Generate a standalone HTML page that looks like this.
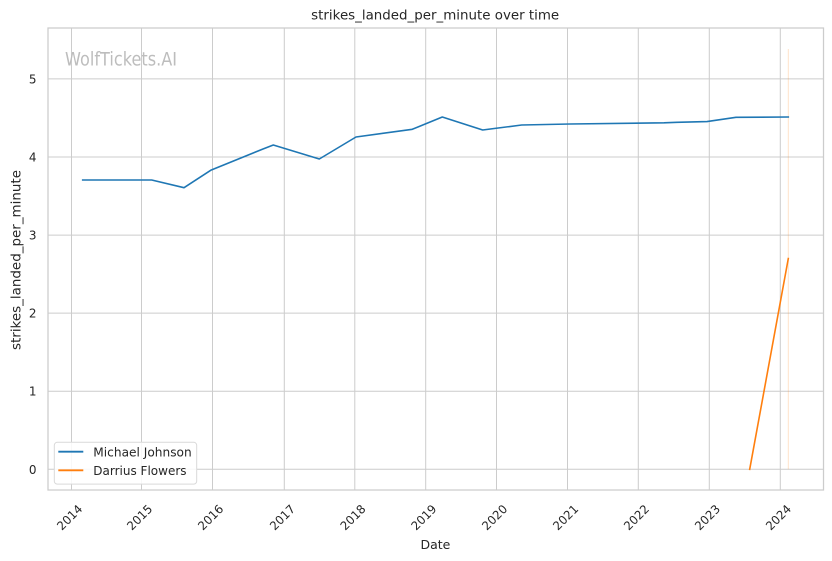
<!DOCTYPE html>
<html><head><meta charset="utf-8"><style>
html,body{margin:0;padding:0;background:#fff;}
svg{display:block;font-family:"DejaVu Sans","Liberation Sans",sans-serif;}
</style></head><body>
<svg width="832" height="561" viewBox="0 0 832 561" xmlns="http://www.w3.org/2000/svg">
<rect x="0" y="0" width="832" height="561" fill="#fff"/>
<!-- grid -->
<g stroke="#cccccc" stroke-width="1">
<line x1="71.5" y1="28" x2="71.5" y2="490"/>
<line x1="141.5" y1="28" x2="141.5" y2="490"/>
<line x1="212.5" y1="28" x2="212.5" y2="490"/>
<line x1="284.3" y1="28" x2="284.3" y2="490"/>
<line x1="354.8" y1="28" x2="354.8" y2="490"/>
<line x1="425.7" y1="28" x2="425.7" y2="490"/>
<line x1="496.5" y1="28" x2="496.5" y2="490"/>
<line x1="567.5" y1="28" x2="567.5" y2="490"/>
<line x1="638.3" y1="28" x2="638.3" y2="490"/>
<line x1="709.3" y1="28" x2="709.3" y2="490"/>
<line x1="780.3" y1="28" x2="780.3" y2="490"/>
<line x1="48" y1="469.3" x2="823.5" y2="469.3"/>
<line x1="48" y1="391.2" x2="823.5" y2="391.2"/>
<line x1="48" y1="313.1" x2="823.5" y2="313.1"/>
<line x1="48" y1="235.1" x2="823.5" y2="235.1"/>
<line x1="48" y1="157.0" x2="823.5" y2="157.0"/>
<line x1="48" y1="78.9" x2="823.5" y2="78.9"/>
</g>
<rect x="48" y="28" width="775.5" height="462" fill="none" stroke="#cccccc" stroke-width="1.25"/>
<!-- watermark -->
<text x="65" y="65.5" font-size="18.5" fill="#bdbdbd" textLength="112" lengthAdjust="spacingAndGlyphs">WolfTickets.AI</text>
<!-- series -->
<line x1="788.3" y1="49" x2="788.3" y2="469.3" stroke="#ff7f0e" stroke-opacity="0.22" stroke-width="1"/>
<polyline fill="none" stroke="#1f77b4" stroke-width="1.6" stroke-linejoin="round" stroke-linecap="square" points="82.7,180 151.7,180 184,187.7 210.7,170.3 263,149 273.3,145 319.3,159 356,137 412.3,129.3 442.3,117 482.7,130 521.7,125 570,124 664,122.8 677,122.3 707,121.6 736,117.3 788.3,117"/>
<polyline fill="none" stroke="#ff7f0e" stroke-width="1.6" stroke-linecap="square" points="749.7,469.3 788.3,258.5"/>
<!-- y ticks -->
<g font-size="12" fill="#262626" text-anchor="end">
<text x="36.5" y="473.8">0</text>
<text x="36.5" y="395.7">1</text>
<text x="36.5" y="317.6">2</text>
<text x="36.5" y="239.6">3</text>
<text x="36.5" y="161.5">4</text>
<text x="36.5" y="83.4">5</text>
</g>
<!-- x ticks -->
<g font-size="11.8" fill="#262626" text-anchor="middle" dominant-baseline="central">
<text x="69.7" y="517.5" transform="rotate(-45 69.7 517.5)">2014</text>
<text x="139.7" y="517.5" transform="rotate(-45 139.7 517.5)">2015</text>
<text x="210.7" y="517.5" transform="rotate(-45 210.7 517.5)">2016</text>
<text x="282.5" y="517.5" transform="rotate(-45 282.5 517.5)">2017</text>
<text x="353" y="517.5" transform="rotate(-45 353 517.5)">2018</text>
<text x="423.9" y="517.5" transform="rotate(-45 423.9 517.5)">2019</text>
<text x="494.7" y="517.5" transform="rotate(-45 494.7 517.5)">2020</text>
<text x="565.7" y="517.5" transform="rotate(-45 565.7 517.5)">2021</text>
<text x="636.5" y="517.5" transform="rotate(-45 636.5 517.5)">2022</text>
<text x="707.5" y="517.5" transform="rotate(-45 707.5 517.5)">2023</text>
<text x="778.5" y="517.5" transform="rotate(-45 778.5 517.5)">2024</text>
</g>
<!-- labels -->
<text x="435.2" y="19.5" font-size="13" fill="#262626" text-anchor="middle" textLength="248" lengthAdjust="spacingAndGlyphs">strikes_landed_per_minute over time</text>
<text x="435.4" y="549" font-size="12.5" fill="#262626" text-anchor="middle">Date</text>
<text transform="translate(20.5,260) rotate(-90)" font-size="13" fill="#262626" text-anchor="middle" textLength="180" lengthAdjust="spacingAndGlyphs">strikes_landed_per_minute</text>
<!-- legend -->
<rect x="54.3" y="442.3" width="142.4" height="41.8" rx="3" fill="#fff" fill-opacity="0.85" stroke="#d9d9d9" stroke-width="1"/>
<line x1="58.3" y1="451.7" x2="83.3" y2="451.7" stroke="#1f77b4" stroke-width="1.8"/>
<line x1="58.3" y1="470.3" x2="83.3" y2="470.3" stroke="#ff7f0e" stroke-width="1.8"/>
<g font-size="12" fill="#262626">
<text x="93.3" y="456.5" textLength="98.4" lengthAdjust="spacingAndGlyphs">Michael Johnson</text>
<text x="93.3" y="475" >Darrius Flowers</text>
</g>
</svg>
</body></html>
